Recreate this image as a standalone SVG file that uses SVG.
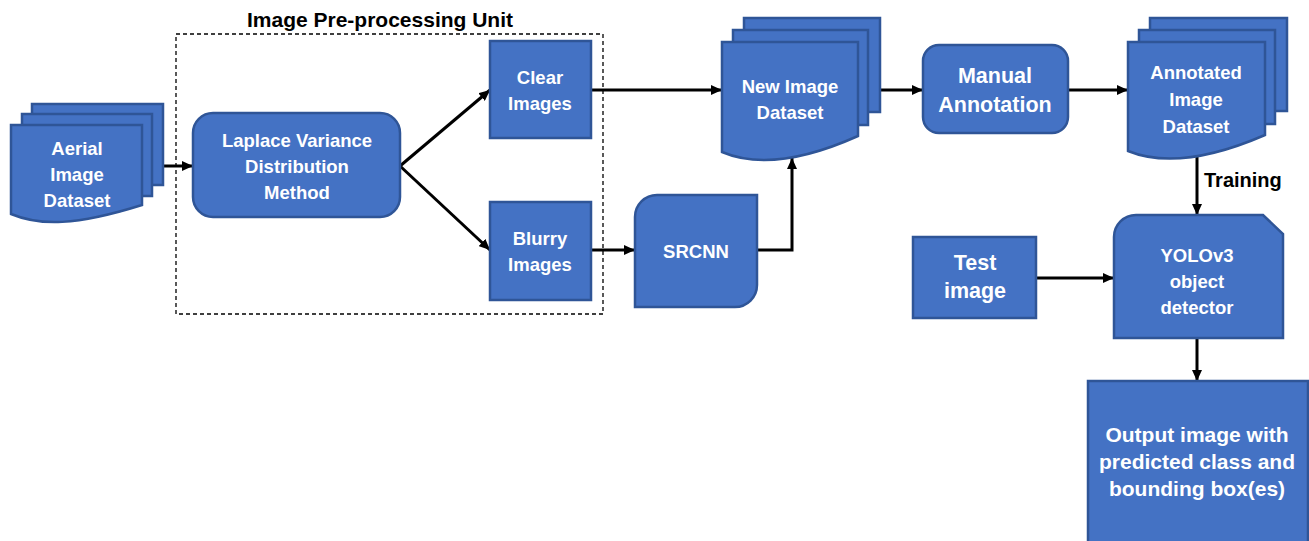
<svg xmlns="http://www.w3.org/2000/svg" width="1309" height="541" viewBox="0 0 1309 541">
<defs>
<style>
.n{fill:#4472C4;stroke:#2F5597;stroke-width:2.5}
.t{font-family:"Liberation Sans",Arial,sans-serif;font-weight:bold;fill:#fff;text-anchor:middle;font-size:18.5px}
.tl{font-size:21.5px}
.to{font-size:21px}
.lbl{font-family:"Liberation Sans",Arial,sans-serif;font-weight:bold;fill:#000;font-size:20px}
.c{fill:none;stroke:#000;stroke-width:3;marker-end:url(#ah)}
</style>
<marker id="ah" markerUnits="userSpaceOnUse" markerWidth="12" markerHeight="10" refX="11" refY="5" orient="auto">
<path d="M0,0 L11,5 L0,10 Z" fill="#000"/>
</marker>
</defs>
<rect width="1309" height="541" fill="#fff"/>

<g id="preproc-unit">
<rect x="176" y="34" width="427" height="280" fill="none" stroke="#000" stroke-width="1.3" stroke-dasharray="4,3"/>
<text class="lbl" x="380" y="27" text-anchor="middle" style="font-size:21px">Image Pre-processing Unit</text>
</g>

<g id="connectors">
<path class="c" d="M163,166 L193,166"/>
<path class="c" d="M400,166 L490,90"/>
<path class="c" d="M400,166 L490,250"/>
<path class="c" d="M591,90 L722,90"/>
<path class="c" d="M591,250 L635,250"/>
<path class="c" d="M757,250 L792,250 L792,158"/>
<path class="c" d="M880,90 L923,90"/>
<path class="c" d="M1068,90 L1128,90"/>
<path class="c" d="M1197,156 L1197,215"/>
<path class="c" d="M1036,278 L1114,278"/>
<path class="c" d="M1197,338 L1197,381"/>
<text class="lbl" x="1204" y="187">Training</text>
</g>

<g id="aerial">
<rect class="n" x="32" y="104" width="131" height="81"/>
<rect class="n" x="22" y="114" width="130" height="82"/>
<path class="n" d="M11,214 C40,226 75,226 142,205 L142,125 L11,125 Z"/>
<text class="t" x="77" y="155">Aerial</text>
<text class="t" x="77" y="181">Image</text>
<text class="t" x="77" y="207">Dataset</text>
</g>

<g id="laplace">
<rect class="n" x="193" y="113" width="207" height="104" rx="20"/>
<text class="t" x="297" y="147">Laplace Variance</text>
<text class="t" x="297" y="173">Distribution</text>
<text class="t" x="297" y="199">Method</text>
</g>

<g id="clear">
<rect class="n" x="490" y="41" width="101" height="97"/>
<text class="t" x="540" y="84">Clear</text>
<text class="t" x="540" y="110">Images</text>
</g>

<g id="blurry">
<rect class="n" x="490" y="202" width="101" height="98"/>
<text class="t" x="540" y="245">Blurry</text>
<text class="t" x="540" y="271">Images</text>
</g>

<g id="srcnn">
<path class="n" d="M657,195 L757,195 L757,285 A22,22 0 0 1 735,307 L635,307 L635,217 A22,22 0 0 1 657,195 Z"/>
<text class="t" x="696" y="258">SRCNN</text>
</g>

<g id="new-dataset">
<rect class="n" x="744" y="18" width="136" height="94"/>
<rect class="n" x="733" y="30" width="135" height="95"/>
<path class="n" d="M722,152 C755,166 800,162 858,136 L858,42 L722,42 Z"/>
<text class="t" x="790" y="93">New Image</text>
<text class="t" x="790" y="119">Dataset</text>
</g>

<g id="manual">
<rect class="n" x="923" y="45" width="145" height="88" rx="16"/>
<text class="t tl" x="995" y="83">Manual</text>
<text class="t tl" x="995" y="112">Annotation</text>
</g>

<g id="annotated">
<rect class="n" x="1150" y="18" width="137" height="93"/>
<rect class="n" x="1139" y="30" width="136" height="94"/>
<path class="n" d="M1128,151 C1160,164 1205,161 1265,135 L1265,42 L1128,42 Z"/>
<text class="t" x="1196" y="79">Annotated</text>
<text class="t" x="1196" y="106">Image</text>
<text class="t" x="1196" y="133">Dataset</text>
</g>

<g id="test">
<rect class="n" x="913" y="237" width="123" height="81"/>
<text class="t tl" x="975" y="270">Test</text>
<text class="t tl" x="975" y="298">image</text>
</g>

<g id="yolo">
<path class="n" d="M1136,215 L1263,215 L1283,234 L1283,338 L1114,338 L1114,237 A22,22 0 0 1 1136,215 Z"/>
<text class="t" x="1197" y="262">YOLOv3</text>
<text class="t" x="1197" y="288">object</text>
<text class="t" x="1197" y="314">detector</text>
</g>

<g id="output">
<rect class="n" x="1088" y="381" width="220" height="162"/>
<text class="t to" x="1197" y="442">Output image with</text>
<text class="t to" x="1197" y="469">predicted class and</text>
<text class="t to" x="1197" y="496">bounding box(es)</text>
</g>
</svg>
